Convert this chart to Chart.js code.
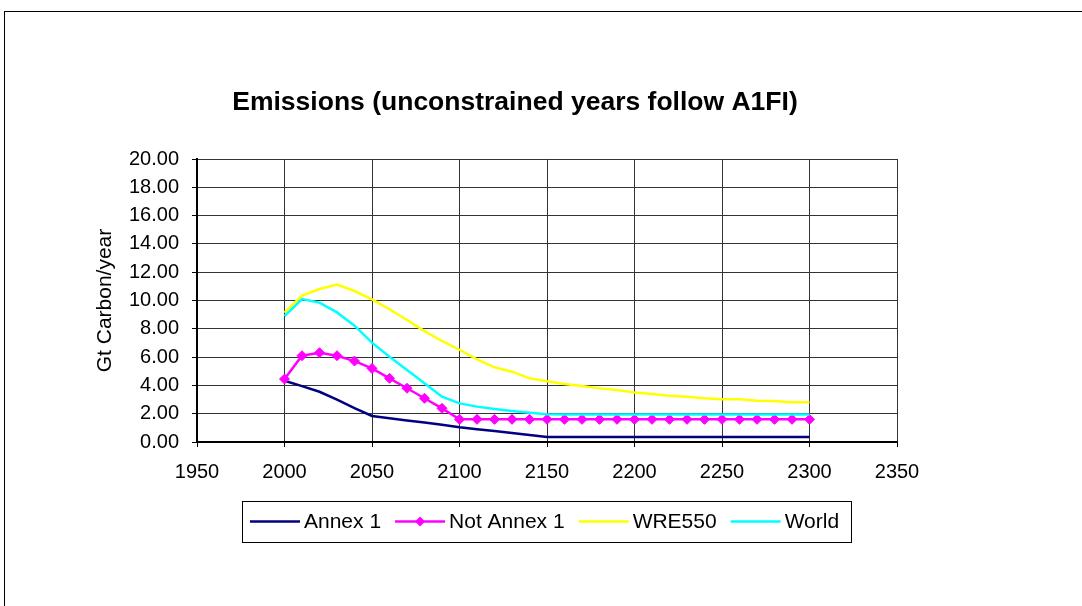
<!DOCTYPE html>
<html>
<head>
<meta charset="utf-8">
<title>Emissions (unconstrained years follow A1FI)</title>
<script src="https://cdn.jsdelivr.net/npm/chart.js@4.4.1/dist/chart.umd.min.js"></script>
<style>
  html, body { margin: 0; padding: 0; background: #fff; overflow: hidden; }
  #wrap { position: relative; width: 1082px; height: 606px; }
  #frame { position: absolute; left: 4px; top: 11px; width: 1200px; height: 800px; border: 1px solid #000; }
  #chart { position: absolute; left: 0; top: 0; }
</style>
</head>
<body>
<div id="wrap">
  <div id="frame"></div>
  <canvas id="chart" width="1082" height="606"></canvas>
</div>
<script>
// values, one per decade
const years = [2000, 2010, 2020, 2030, 2040, 2050, 2060, 2070, 2080, 2090,
  2100, 2110, 2120, 2130, 2140, 2150, 2160, 2170, 2180, 2190,
  2200, 2210, 2220, 2230, 2240, 2250, 2260, 2270, 2280, 2290, 2300];

const annex1 = [4.33, 3.95, 3.55, 3.0, 2.4, 1.84, 1.68, 1.52, 1.37, 1.22,
  1.04, 0.9, 0.78, 0.64, 0.5, 0.35, 0.35, 0.35, 0.35, 0.35,
  0.35, 0.35, 0.35, 0.35, 0.35, 0.35, 0.35, 0.35, 0.35, 0.35, 0.35];

const notAnnex1 = [4.45, 6.1, 6.31, 6.1, 5.72, 5.2, 4.5, 3.8, 3.09, 2.38,
  1.6, 1.6, 1.6, 1.6, 1.6, 1.6, 1.6, 1.6, 1.6, 1.6,
  1.6, 1.6, 1.6, 1.6, 1.6, 1.6, 1.6, 1.6, 1.6, 1.6, 1.6];

const wre550 = [9.14, 10.34, 10.81, 11.12, 10.67, 10.08, 9.38, 8.62, 7.84, 7.14,
  6.52, 5.84, 5.28, 4.97, 4.5, 4.29, 4.1, 3.96, 3.79, 3.67,
  3.49, 3.39, 3.27, 3.2, 3.09, 3.02, 3.02, 2.92, 2.9, 2.81, 2.81];

const world = [8.9, 10.1, 9.85, 9.16, 8.22, 7.02, 6.03, 5.09, 4.15, 3.2,
  2.73, 2.5, 2.33, 2.19, 2.07, 1.96, 1.95, 1.95, 1.95, 1.95,
  1.95, 1.95, 1.95, 1.95, 1.95, 1.95, 1.95, 1.95, 1.95, 1.95, 1.95];

const seriesNames = ["Annex 1", "Not Annex 1", "WRE550", "World"];
const xTicks = [1950, 2000, 2050, 2100, 2150, 2200, 2250, 2300, 2350];
const chartTitle = "Emissions (unconstrained years follow A1FI)";

const FONT = "'Liberation Sans', Arial, sans-serif";

const toPoints = (values) => years.map((yr, i) => ({ x: yr, y: values[i] }));

// title centred on the whole chart object, as Excel does it
const sheetTitle = {
  id: "sheetTitle",
  afterDraw(chart, args, opts) {
    const ctx = chart.ctx;
    ctx.save();
    ctx.font = opts.font;
    ctx.fillStyle = "#000";
    ctx.textAlign = "center";
    ctx.textBaseline = "middle";
    ctx.fillText(opts.text, opts.x, opts.y);
    ctx.restore();
  },
};

// Excel-style legend: a line sample (with marker if any) and label, in a box
const lineLegend = {
  id: "lineLegend",
  afterDraw(chart, args, opts) {
    const ctx = chart.ctx;
    ctx.save();
    ctx.font = opts.font;
    const items = chart.data.datasets.map((ds) => ({ ds, w: ctx.measureText(ds.label).width }));
    let total = opts.padLeft + opts.padRight;
    items.forEach((it, i) => {
      total += opts.lineLen + opts.textGap + it.w + (i ? opts.itemGap : 0);
    });
    const area = chart.chartArea;
    let x = Math.round((area.left + area.right) / 2 - total / 2);
    const cy = opts.top + opts.height / 2;

    ctx.strokeStyle = "#000";
    ctx.lineWidth = 1;
    ctx.strokeRect(x + 0.5, opts.top + 0.5, Math.round(total), opts.height);

    x += opts.padLeft;
    ctx.textBaseline = "middle";
    ctx.textAlign = "left";
    items.forEach((it, i) => {
      if (i) x += opts.itemGap;
      const ds = it.ds;
      ctx.strokeStyle = ds.borderColor;
      ctx.lineWidth = ds.borderWidth;
      ctx.beginPath();
      ctx.moveTo(x, cy);
      ctx.lineTo(x + opts.lineLen, cy);
      ctx.stroke();
      if (ds.pointRadius > 0) {
        const r = ds.pointRadius;
        const mx = x + opts.lineLen / 2;
        ctx.fillStyle = ds.pointBackgroundColor;
        ctx.beginPath();
        ctx.moveTo(mx, cy - r);
        ctx.lineTo(mx + r, cy);
        ctx.lineTo(mx, cy + r);
        ctx.lineTo(mx - r, cy);
        ctx.closePath();
        ctx.fill();
      }
      x += opts.lineLen + opts.textGap;
      ctx.fillStyle = "#000";
      ctx.fillText(ds.label, x, cy + 1);
      x += it.w;
    });
    ctx.restore();
  },
};

const gridStyle = { color: "#333", lineWidth: 1, tickLength: 5, drawTicks: true, tickColor: "#000" };
const axisBorder = { color: "#000", width: 2 };

new Chart(document.getElementById("chart"), {
  type: "line",
  data: {
    datasets: [
      {
        label: seriesNames[0],
        data: toPoints(annex1),
        borderColor: "#000080",
        borderWidth: 2.5,
        pointRadius: 0,
        order: 3,
      },
      {
        label: seriesNames[1],
        data: toPoints(notAnnex1),
        borderColor: "#FF00FF",
        borderWidth: 2.5,
        pointStyle: "rectRot",
        pointRadius: 5,
        pointBackgroundColor: "#FF00FF",
        pointBorderColor: "#FF00FF",
        pointBorderWidth: 1,
        order: 2,
      },
      {
        label: seriesNames[2],
        data: toPoints(wre550),
        borderColor: "#FFFF00",
        borderWidth: 2.5,
        pointRadius: 0,
        order: 1,
      },
      {
        label: seriesNames[3],
        data: toPoints(world),
        borderColor: "#00FFFF",
        borderWidth: 2.5,
        pointRadius: 0,
        order: 0,
      },
    ],
  },
  options: {
    responsive: false,
    animation: false,
    devicePixelRatio: 1,
    layout: { padding: { left: 85, right: 185, top: 159, bottom: 124 } },
    elements: { line: { tension: 0, fill: false } },
    scales: {
      x: {
        type: "linear",
        min: xTicks[0],
        max: xTicks[xTicks.length - 1],
        afterBuildTicks: (scale) => {
          scale.ticks = xTicks.map((v) => ({ value: v }));
        },
        ticks: {
          color: "#000",
          padding: 13,
          maxRotation: 0,
          autoSkip: false,
          font: { family: FONT, size: 20 },
          callback: (v) => String(v),
        },
        grid: gridStyle,
        border: axisBorder,
        afterFit: (scale) => { scale.height = 40; },
      },
      y: {
        min: 0,
        max: 20,
        ticks: {
          stepSize: 2,
          color: "#000",
          padding: 13,
          font: { family: FONT, size: 20 },
          callback: (v) => Number(v).toFixed(2),
        },
        grid: gridStyle,
        border: axisBorder,
        title: {
          display: true,
          text: "Gt Carbon/year",
          color: "#000",
          font: { family: FONT, size: 21 },
          padding: { top: 8, bottom: 0 },
        },
        afterFit: (scale) => { scale.width = 112; },
      },
    },
    plugins: {
      legend: { display: false },
      tooltip: { enabled: false },
      title: { display: false },
      sheetTitle: {
        text: chartTitle,
        font: "bold 26.5px " + FONT,
        x: 515,
        y: 103,
      },
      lineLegend: {
        font: "21px " + FONT,
        top: 501,
        height: 41,
        padLeft: 8,
        padRight: 12,
        lineLen: 50,
        textGap: 4,
        itemGap: 14,
      },
    },
  },
  plugins: [sheetTitle, lineLegend],
});
</script>
</body>
</html>
